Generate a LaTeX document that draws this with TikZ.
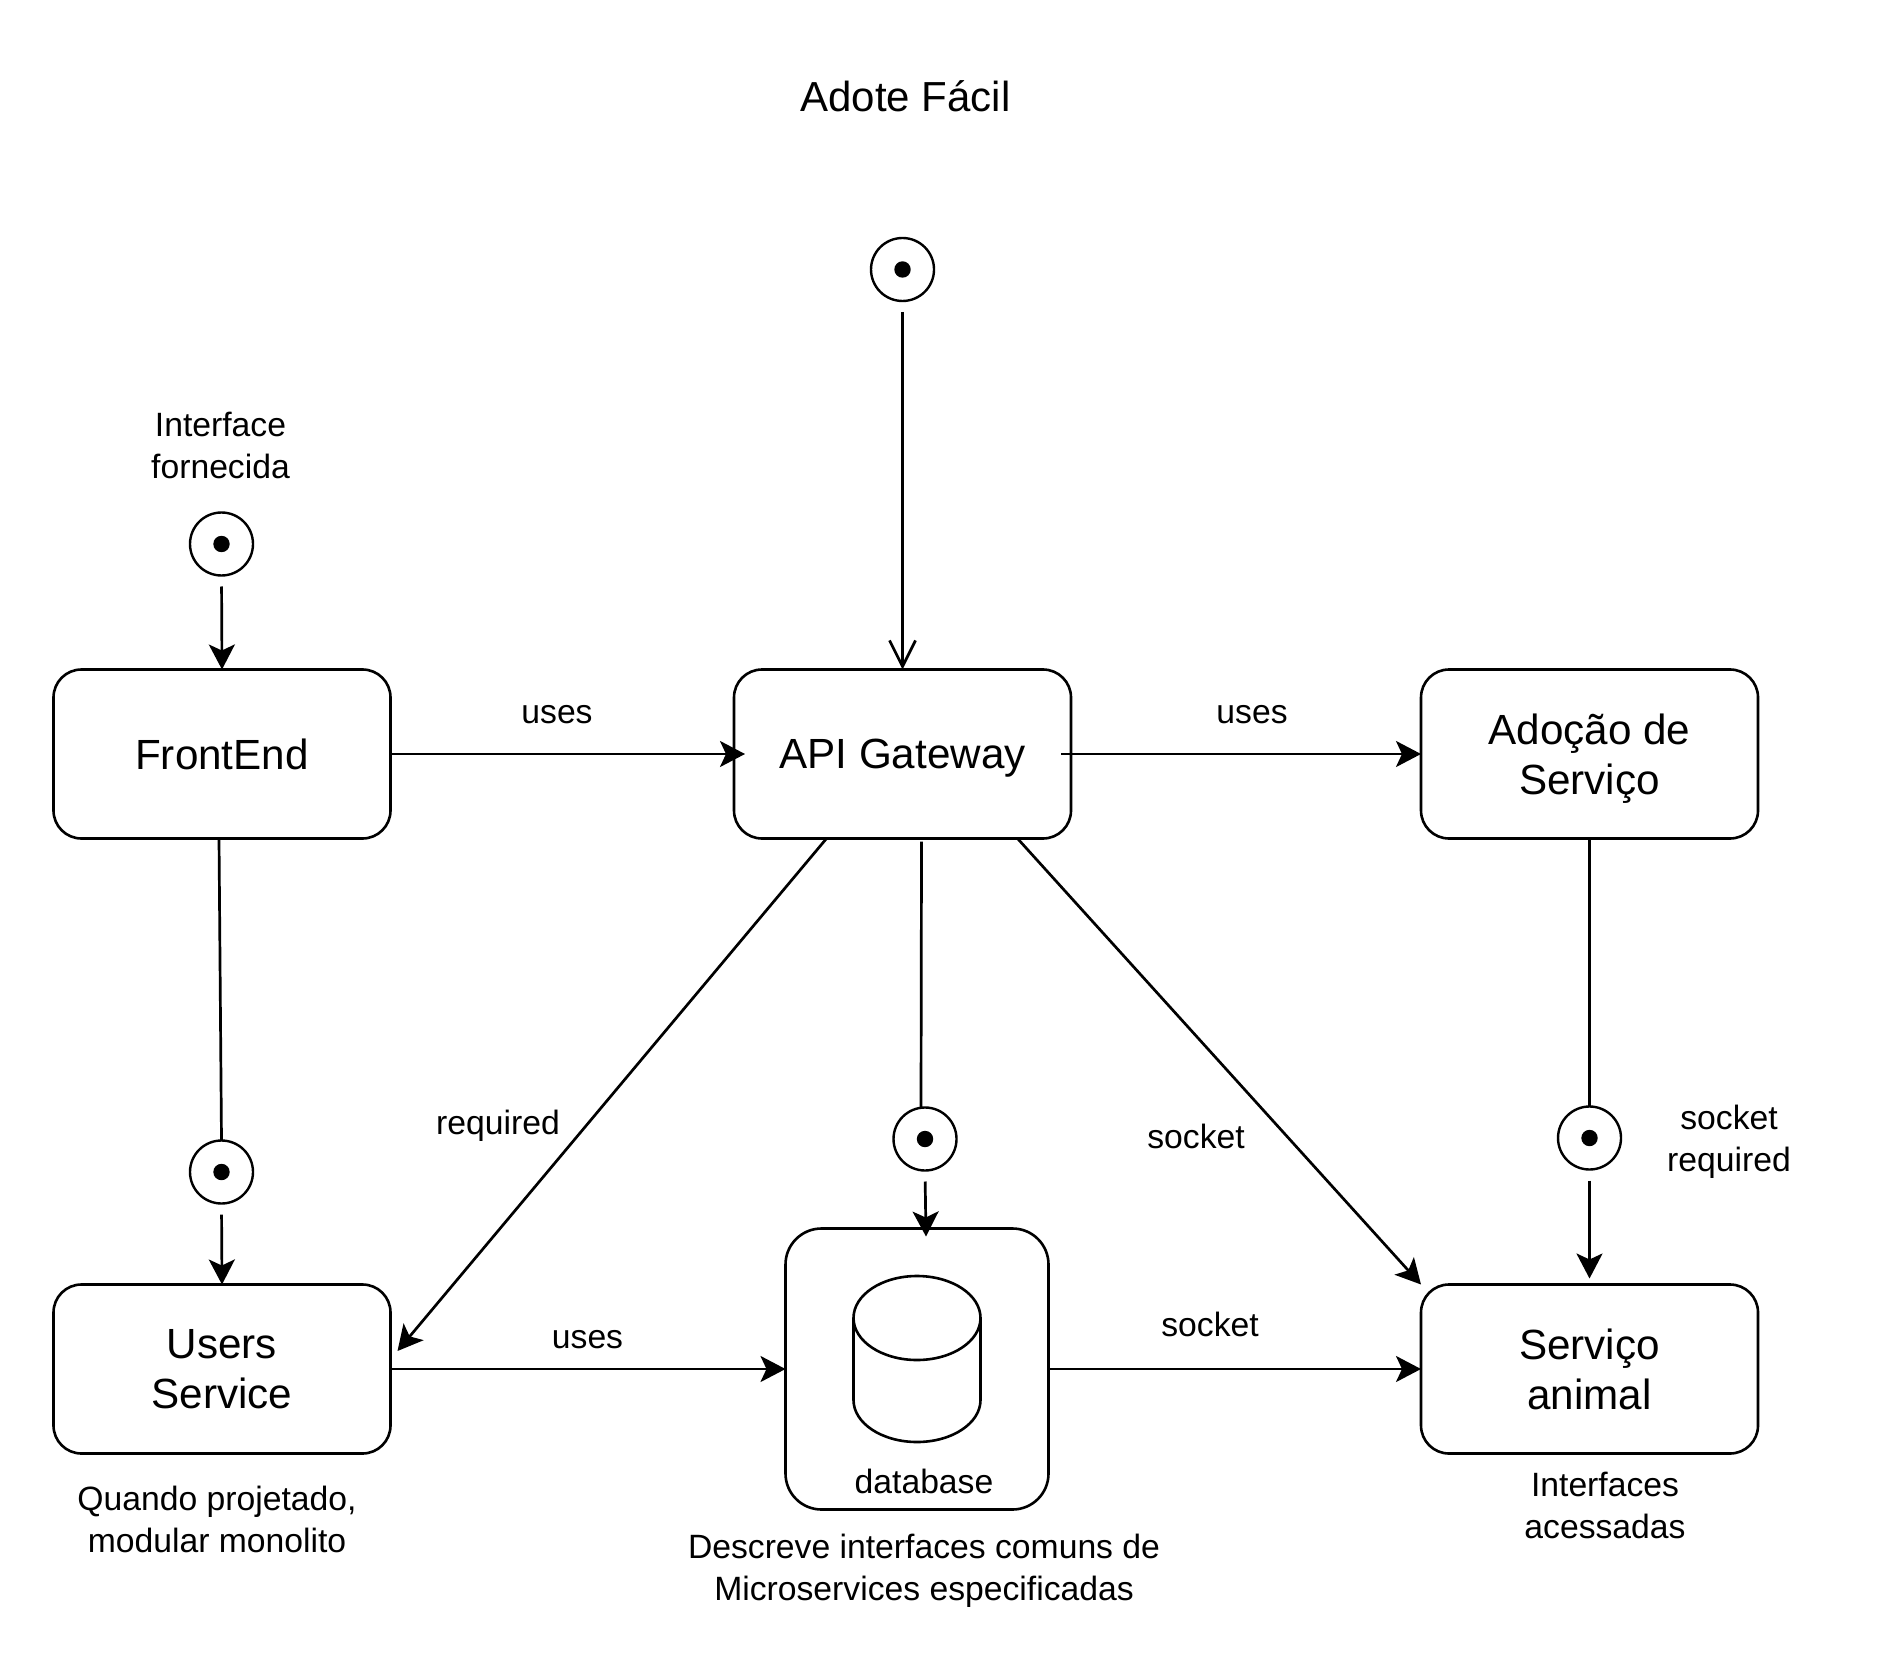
\documentclass[tikz,border=0pt]{standalone}
\usepackage{fontspec}
\setmainfont{Liberation Sans}
\usetikzlibrary{arrows.meta}
\tikzset{
  x=0.5pt,y=-0.5pt,
  box/.style={draw,line width=1.3pt,rounded corners=14pt,minimum width=168.5pt,minimum height=84.5pt,inner sep=0pt,outer sep=0pt,align=center,text depth=0pt,font=\fontsize{21.1}{25}\selectfont},
  dbbox/.style={draw,line width=1.3pt,rounded corners=18pt,minimum width=131.5pt,minimum height=140.5pt,inner sep=0pt,outer sep=0pt},
  port/.style={draw,circle,line width=1.2pt,minimum size=31.5pt,inner sep=0pt,outer sep=0pt},
  dot/.style={fill=black,circle,minimum size=8.2pt,inner sep=0pt,outer sep=0pt},
  lbl/.style={align=center,inner sep=0pt,font=\fontsize{16.85}{21}\selectfont},
  conn/.style={line width=1.35pt,-{Stealth[length=12.5pt,width=13pt,inset=3pt]}},
  plain/.style={line width=1.35pt},
  openconn/.style={line width=1.35pt,-{Straight Barb[length=13pt,width=13pt]}},
  gap/.style={shorten <=5.5pt}
}
\begin{document}
\begin{tikzpicture}
\useasboundingbox[fill=white] (0,0) rectangle (1877,1657);
\node[font=\fontsize{21}{25}\selectfont,inner sep=0pt] (title) at (905.5,96.5) {Adote Fácil};
% boxes
\node[box] (fe) at (222,754) {FrontEnd};
\node[box] (api) at (902.5,754) {API Gateway};
\node[box] (ad) at (1589.5,754) {Adoção de\\Serviço};
\node[box] (us) at (222,1369) {Users\\Service};
\node[box] (srv) at (1589.5,1369) {Serviço\\animal};
\node[dbbox] (db) at (917,1369) {};
% ports
\node[port] (ptop) at (902.5,269.5) {}; \node[dot] (dtop) at (902.5,269.5) {};
\node[port] (pfe) at (221.5,544) {}; \node[dot] (dfe) at (221.5,544) {};
\node[port] (pus) at (221.5,1172) {}; \node[dot] (dus) at (221.5,1172) {};
\node[port] (pdb) at (925,1139) {}; \node[dot] (ddb) at (925,1139) {};
\node[port] (psv) at (1589.5,1138) {}; \node[dot] (dsv) at (1589.5,1138) {};
% cylinder
\draw[line width=1.3pt] (853.5,1318) -- (853.5,1400) arc[start angle=180,end angle=360,x radius=31.75pt,y radius=21pt] -- (980.5,1318);
\draw[line width=1.3pt] (917,1318) ellipse[x radius=31.75pt,y radius=21pt];
\node[lbl] (dbl) at (924,1481) {database};
% connectors
\draw[openconn,gap] (ptop.south) -- (api.north);
\draw[conn,gap] (pfe.south) -- (fe.north);
\draw[conn] (fe.east) -- ([xshift=5.5pt]api.west);
\draw[conn] ([xshift=-5pt]api.east) -- (ad.west);
\draw[plain] ([xshift=-1.5pt]fe.south) -- (pus.north);
\draw[conn,gap] (pus.south) -- (us.north);
\draw[conn] ([xshift=-38pt]api.south) -- ([shift={(3.5pt,9pt)}]us.east);
\draw[plain] ([shift={(9.5pt,-1.5pt)}]api.south) -- ([xshift=-2pt]pdb.north);
\draw[conn,gap] (pdb.south) -- ([shift={(4.5pt,-4pt)}]db.north);
\draw[conn] ([xshift=57.5pt]api.south) -- (srv.north west);
\draw[plain] (ad.south) -- (psv.north);
\draw[conn,gap] (psv.south) -- ([yshift=3pt]srv.north);
\draw[conn] (us.east) -- (db.west);
\draw[conn] (db.east) -- (srv.west);
% labels
\node[lbl] (l1) at (220.5,445.5) {Interface\\fornecida};
\node[lbl] (l2) at (557,714.5) {uses};
\node[lbl] (l3) at (1252,714.5) {uses};
\node[lbl] (l4) at (498,1126) {required};
\node[lbl] (l5) at (1196,1136.5) {socket};
\node[lbl] (l6) at (1210,1324.5) {socket};
\node[lbl] (l7) at (587.5,1340) {uses};
\node[lbl] (l8) at (1729,1141.5) {socket\\required};
\node[lbl] (l9) at (217,1519) {Quando projetado,\\modular monolito};
\node[lbl] (l10) at (924,1570.5) {Descreve interfaces comuns de\\Microservices especificadas};
\node[lbl] (l11) at (1605,1505) {Interfaces\\acessadas};
\end{tikzpicture}
\end{document}
